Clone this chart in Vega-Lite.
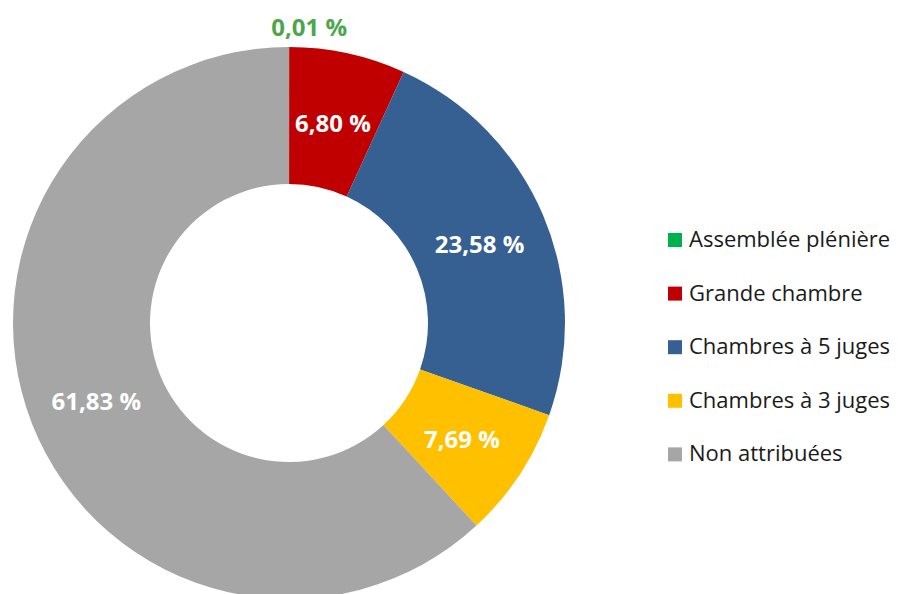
{
  "$schema": "https://vega.github.io/schema/vega-lite/v6.json",
  "width": 578,
  "height": 646,
  "autosize": "none",
  "padding": {"left": 0, "top": 0, "right": 320, "bottom": 0},
  "background": "white",
  "config": {"view": {"stroke": null}, "font": "Open Sans"},
  "data": {"values": [
    {"cat": "Assemblée plénière", "value": 0.01, "label": "0,01 %", "order": 1},
    {"cat": "Grande chambre", "value": 6.80, "label": "6,80 %", "order": 2},
    {"cat": "Chambres à 5 juges", "value": 23.58, "label": "23,58 %", "order": 3},
    {"cat": "Chambres à 3 juges", "value": 7.69, "label": "7,69 %", "order": 4},
    {"cat": "Non attribuées", "value": 61.83, "label": "61,83 %", "order": 5}
  ]},
  "encoding": {
    "theta": {"field": "value", "type": "quantitative", "stack": true},
    "order": {"field": "order", "type": "quantitative"}
  },
  "layer": [
    {
      "mark": {"type": "arc", "outerRadius": 276, "innerRadius": 139},
      "encoding": {
        "color": {
          "field": "cat", "type": "nominal",
          "scale": {
            "domain": ["Assemblée plénière", "Grande chambre", "Chambres à 5 juges", "Chambres à 3 juges", "Non attribuées"],
            "range": ["#00B050", "#C00000", "#366092", "#FFC000", "#A6A6A6"]
          },
          "legend": {
            "title": null,
            "orient": "none",
            "legendX": 664,
            "legendY": 229,
            "symbolType": "square",
            "symbolSize": 196,
            "symbolStrokeWidth": 0,
            "labelFontSize": 22,
            "labelFont": "Open Sans",
            "labelColor": "#1a1a1a",
            "labelOffset": 3,
            "rowPadding": 31.6,
            "labelLimit": 400
          }
        }
      }
    },
    {
      "transform": [{"filter": "datum.order > 1"}],
      "mark": {"type": "text", "radius": 207, "dy": 4, "fontSize": 24, "fontWeight": "bold", "color": "white", "baseline": "middle", "align": "center"},
      "encoding": {"text": {"field": "label"}}
    },
    {
      "transform": [{"filter": "datum.order == 1"}],
      "mark": {"type": "text", "radius": 297, "dx": 20, "dy": 3, "fontSize": 24, "fontWeight": "bold", "color": "#4CA64C", "baseline": "middle", "align": "center"},
      "encoding": {"text": {"field": "label"}}
    }
  ]
}
